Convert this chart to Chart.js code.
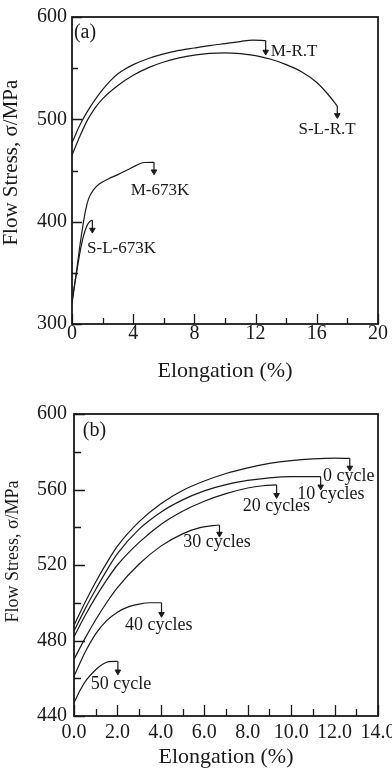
<!DOCTYPE html>
<html>
<head>
<meta charset="utf-8">
<script src="https://cdn.jsdelivr.net/npm/chart.js@4.4.1/dist/chart.umd.min.js"></script>
<style>
    html, body { margin: 0; padding: 0; background: #fff; }
    body { width: 392px; height: 768px; overflow: hidden; position: relative; }
    canvas { position: absolute; left: 0; }
    #chart-a { top: 0; }
    #chart-b { top: 385px; }
</style>
</head>
<body>
<canvas id="chart-a" width="420" height="385"></canvas>
<canvas id="chart-b" width="420" height="383"></canvas>
<script>
// ---- panel (a): flow stress vs elongation ----
const namesA = ['M-R.T', 'S-L-R.T', 'M-673K', 'S-L-673K'];
const mrtStrain = [0, 0.5, 1, 1.5, 2, 2.5, 3, 3.5, 4, 5, 6, 7, 8, 9, 10, 11, 11.8, 12.66];
const mrtStress = [477, 494, 507.5, 519, 529, 537.5, 544.5, 549.5, 553.5, 559.5, 564, 567.3, 569.7, 572, 574, 576, 577.5, 577];
const slrtStrain = [0, 0.5, 1, 1.5, 2, 3, 4, 5, 6, 7, 8, 9, 10, 11, 12, 13, 14, 15, 16, 16.7, 17.34];
const slrtStress = [465, 483, 499, 511, 520, 533, 543, 550.5, 556, 560, 562.8, 564.5, 565, 564.3, 562.3, 558.7, 553.5, 546.5, 536, 525, 513];
const m673Strain = [0, 0.3, 0.5, 0.7, 0.9, 1.1, 1.4, 1.8, 2.4, 3, 3.6, 4.2, 4.7, 5.36];
const m673Stress = [322, 352, 375, 395, 412, 423, 431, 437, 442, 446, 450.5, 455, 457.8, 458];
const sl673Strain = [0, 0.15, 0.3, 0.52, 0.75, 0.95, 1.15, 1.33];
const sl673Stress = [320, 336, 350, 370, 386, 395, 400, 401.5];
const arrowTipsA = [566, 504, 449, 392];
const xLabelsA = [0, 4, 8, 12, 16, 20];
const yLabelsA = [300, 400, 500, 600];

// ---- panel (b): effect of thermal cycles ----
const namesB = ['0 cycle', '10 cycles', '20 cycles', '30 cycles', '40 cycles', '50 cycle'];
const c0Strain = [0, 0.5, 1, 1.5, 2, 3, 4, 5, 6, 7, 8, 9, 10, 11, 12, 12.7];
const c0Stress = [488, 500, 511, 521, 530, 543, 552.5, 559.5, 564.5, 568.5, 571.5, 573.8, 575.3, 576.2, 576.6, 576.5];
const c10Strain = [0, 0.5, 1, 1.5, 2, 3, 4, 5, 6, 7, 8, 9, 10, 11.36];
const c10Stress = [485, 496.5, 507, 517, 526, 539, 548, 554.5, 559.3, 562.6, 564.8, 566.2, 566.8, 566.8];
const c20Strain = [0, 0.5, 1, 1.5, 2, 3, 4, 5, 6, 7, 8, 8.7, 9.33];
const c20Stress = [482, 493, 503, 512, 520, 532, 541.5, 548.5, 553.8, 557.8, 560.8, 562, 562.4];
const c30Strain = [0, 0.5, 1, 1.5, 2, 3, 4, 5, 5.8, 6.7];
const c30Stress = [470, 481, 491, 500, 508, 520.5, 530, 536.5, 539.8, 541.2];
const c40Strain = [0, 0.5, 1, 1.5, 2, 2.5, 3, 3.5, 4.03];
const c40Stress = [461, 473.5, 483.5, 490.5, 495, 497.8, 499.3, 500, 500];
const c50Strain = [0, 0.3, 0.6, 1, 1.3, 1.6, 2.02];
const c50Stress = [447, 454, 459.5, 464.5, 467.3, 468.8, 469];
const arrowTipsB = [571.5, 561.5, 557, 536.5, 494, 463.5];
const xLabelsB = [0, 2, 4, 6, 8, 10, 12, 14];
const yLabelsB = [440, 480, 520, 560, 600];

// text placed inside the plots, in data units
const notesA = [
    { text: '(a)', x: 0.85, y: 584.4, size: 20 },
    { text: 'M-R.T', x: 14.51, y: 565.8 },
    { text: 'S-L-R.T', x: 16.67, y: 490.3 },
    { text: 'M-673K', x: 5.75, y: 430.3 },
    { text: 'S-L-673K', x: 3.24, y: 373.3 }
];
const notesB = [
    { text: '(b)', x: 0.94, y: 591.3, size: 20 },
    { text: '0 cycle', x: 12.65, y: 567.2 },
    { text: '10 cycles', x: 11.83, y: 557.5 },
    { text: '20 cycles', x: 9.32, y: 550.9 },
    { text: '30 cycles', x: 6.59, y: 531.8 },
    { text: '40 cycles', x: 3.9, y: 488.2 },
    { text: '50 cycle', x: 2.16, y: 457 }
];

const ink = '#1a1a1a';
const serif = '"Liberation Serif", "Times New Roman", serif';
Chart.defaults.font.family = serif;
Chart.defaults.color = ink;

function buildDatasets(names, strains, stresses, tips) {
    const out = [];
    names.forEach((name, i) => {
        const xs = strains[i];
        const ys = stresses[i];
        const last = xs.length - 1;
        out.push({
            label: name,
            data: xs.map((x, j) => ({ x: x, y: ys[j] })),
            borderColor: ink,
            borderWidth: 1.2,
            pointRadius: 0,
            cubicInterpolationMode: 'monotone',
            fill: false
        });
        // little down arrow at the end of each curve
        out.push({
            label: name + ' end',
            data: [{ x: xs[last], y: ys[last] }, { x: xs[last], y: tips[i] }],
            borderColor: ink,
            borderWidth: 1.2,
            pointRadius: [0, 3.2],
            pointStyle: 'triangle',
            pointRotation: 180,
            pointBackgroundColor: ink,
            pointBorderColor: ink,
            pointBorderWidth: 1,
            fill: false
        });
    });
    return out;
}

// box around the plot + inward tick marks (long on labelled ticks)
const framePlugin = {
    id: 'frame',
    afterDraw(chart, args, opts) {
        const { ctx, chartArea: a, scales } = chart;
        ctx.save();
        ctx.strokeStyle = ink;
        ctx.lineWidth = 1.3;
        ctx.beginPath();
        scales.x.ticks.forEach(t => {
            const px = Math.round(scales.x.getPixelForValue(t.value)) + 0.5;
            const len = t.label ? opts.major : opts.minor;
            ctx.moveTo(px, a.bottom);
            ctx.lineTo(px, a.bottom - len);
        });
        scales.y.ticks.forEach(t => {
            const py = Math.round(scales.y.getPixelForValue(t.value)) + 0.5;
            const len = t.label ? opts.major : opts.minor;
            ctx.moveTo(a.left, py);
            ctx.lineTo(a.left + len, py);
        });
        ctx.stroke();
        ctx.lineWidth = 1.8;
        ctx.strokeRect(a.left, a.top, a.right - a.left, a.bottom - a.top);
        ctx.restore();
    }
};

const notesPlugin = {
    id: 'notes',
    afterDatasetsDraw(chart, args, opts) {
        const { ctx, scales: { x, y } } = chart;
        ctx.save();
        ctx.fillStyle = ink;
        ctx.textAlign = 'center';
        ctx.textBaseline = 'middle';
        opts.items.forEach(n => {
            ctx.font = (n.size || opts.size) + 'px ' + serif;
            ctx.fillText(n.text, x.getPixelForValue(n.x), y.getPixelForValue(n.y));
        });
        ctx.restore();
    }
};

function makeChart(id, cfg) {
    return new Chart(document.getElementById(id), {
        type: 'line',
        data: { datasets: cfg.datasets },
        options: {
            responsive: false,
            animation: false,
            layout: { padding: { top: cfg.top, right: 42, left: 0, bottom: 0 } },
            plugins: {
                legend: { display: false },
                tooltip: { enabled: false },
                frame: { major: cfg.major, minor: cfg.minor },
                notes: { items: cfg.notes, size: cfg.noteSize }
            },
            scales: {
                x: {
                    type: 'linear',
                    min: cfg.xMin, max: cfg.xMax,
                    grid: { display: false, drawTicks: false },
                    border: { display: false },
                    ticks: {
                        stepSize: cfg.xStep,
                        autoSkip: false,
                        maxRotation: 0,
                        padding: cfg.xTickPad,
                        font: { size: 20, lineHeight: 1 },
                        callback: v => cfg.xLabels.includes(v) ? cfg.xFormat(v) : ''
                    },
                    title: {
                        display: true,
                        text: 'Elongation (%)',
                        font: { size: 22, lineHeight: 1 },
                        padding: { top: 0, bottom: cfg.xTitlePad }
                    },
                    afterFit: s => { s.height = cfg.xHeight; s.paddingLeft = 0; s.paddingRight = 0; }
                },
                y: {
                    min: cfg.yMin, max: cfg.yMax,
                    grid: { display: false, drawTicks: false },
                    border: { display: false },
                    ticks: {
                        stepSize: cfg.yStep,
                        autoSkip: false,
                        padding: cfg.yTickPad,
                        font: { size: 20, lineHeight: 1 },
                        callback: v => cfg.yLabels.includes(v) ? String(v) : ''
                    },
                    title: {
                        display: true,
                        text: cfg.yTitle,
                        font: { size: cfg.yTitleSize, lineHeight: 1 },
                        padding: { top: cfg.yTitlePad, bottom: 0 }
                    },
                    afterFit: s => { s.width = cfg.yWidth; s.paddingTop = 0; s.paddingBottom = 0; }
                }
            }
        },
        plugins: [framePlugin, notesPlugin]
    });
}

makeChart('chart-a', {
    datasets: buildDatasets(namesA,
        [mrtStrain, slrtStrain, m673Strain, sl673Strain],
        [mrtStress, slrtStress, m673Stress, sl673Stress], arrowTipsA),
    notes: notesA, noteSize: 17,
    top: 17, xHeight: 61, yWidth: 72,
    xMin: 0, xMax: 20, xStep: 2, xLabels: xLabelsA, xFormat: v => String(v),
    yMin: 300, yMax: 600, yStep: 50, yLabels: yLabelsA,
    xTickPad: 0, yTickPad: 5, xTitlePad: 3,
    yTitle: '   Flow Stress, σ/MPa', yTitleSize: 21, yTitlePad: 1,
    major: 10, minor: 6
});

makeChart('chart-b', {
    datasets: buildDatasets(namesB,
        [c0Strain, c10Strain, c20Strain, c30Strain, c40Strain, c50Strain],
        [c0Stress, c10Stress, c20Stress, c30Stress, c40Stress, c50Stress], arrowTipsB),
    notes: notesB, noteSize: 18,
    top: 29, xHeight: 52, yWidth: 74,
    xMin: 0, xMax: 14, xStep: 1, xLabels: xLabelsB, xFormat: v => v.toFixed(1),
    yMin: 440, yMax: 600, yStep: 20, yLabels: yLabelsB,
    xTickPad: 7, yTickPad: 7, xTitlePad: 0,
    yTitle: '      Flow Stress, σ/MPa', yTitleSize: 18, yTitlePad: 4,
    major: 11, minor: 7
});
</script>
</body>
</html>
